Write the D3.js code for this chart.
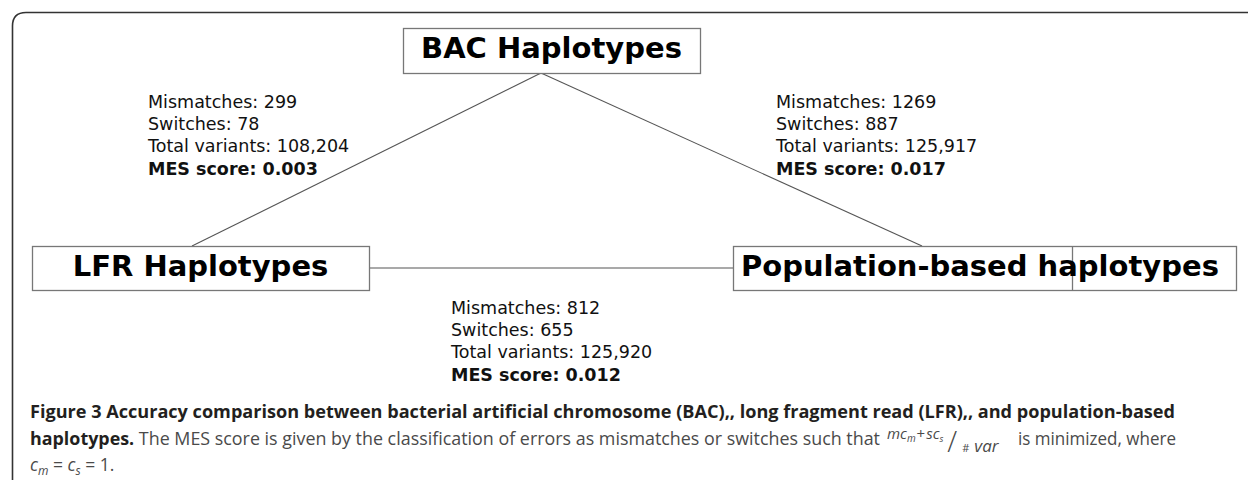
<!DOCTYPE html>
<head>
  <meta charset="utf-8">
  <script src="https://d3js.org/d3.v7.min.js"></script>
  <style>
    body { margin: 0; background: #fff; }
    svg { display: block; }
    .node rect { fill: #fff; stroke: #777; stroke-width: 1.3; }
    .node text { font-family: "DejaVu Sans"; font-weight: bold; font-size: 29px; fill: #000; }
    .edge { stroke: #555; stroke-width: 1.1; }
    .stats text { font-family: "DejaVu Sans"; font-size: 17.5px; fill: #111; }
    .caption { font-family: "Open Sans"; font-size: 17.5px; fill: #4a4a4a; }
    .caption .b { font-weight: 700; fill: #231f20; }
  </style>
</head>
<body>
<div id="chart"></div>
<script>
// haplotype sources
var nodes = ["BAC Haplotypes", "LFR Haplotypes", "Population-based haplotypes"];
// pairwise comparisons: [from, to]
var pairs = [[0, 1], [0, 2], [1, 2]];
var mismatches = [299, 1269, 812];
var switches = [78, 887, 655];
var totalVariants = [108204, 125917, 125920];
var mesScores = [0.003, 0.017, 0.012];

var width = 1248, height = 480;

var svg = d3.select("#chart").append("svg")
    .attr("width", width)
    .attr("height", height);

// layout (boxes and label anchors)
var boxes = [
  {x: 403, y: 28, w: 297, h: 45, tx: 551.5, anchor: "middle"},
  {x: 32, y: 246, w: 337, h: 44, tx: 200.5, anchor: "middle"},
  {x: 733, y: 246, w: 503, h: 44, tx: 741, anchor: "start", split: 1072}
];
var edgeEnds = [
  [[541, 73], [192, 246]],
  [[541, 73], [922, 246]],
  [[369, 268], [733, 268]]
];
var statPos = [[148, 108], [776, 108], [451, 314]];

// outer frame with rounded top-left corner
svg.append("path")
    .attr("d", "M12.5,480 L12.5,26 Q12.5,12.5 26,12.5 L1248,12.5")
    .attr("fill", "none")
    .attr("stroke", "#333")
    .attr("stroke-width", 1.6);

svg.selectAll("line.edge")
    .data(pairs)
  .enter().append("line")
    .attr("class", "edge")
    .attr("x1", function(d, i) { return edgeEnds[i][0][0]; })
    .attr("y1", function(d, i) { return edgeEnds[i][0][1]; })
    .attr("x2", function(d, i) { return edgeEnds[i][1][0]; })
    .attr("y2", function(d, i) { return edgeEnds[i][1][1]; });

var node = svg.selectAll("g.node")
    .data(nodes)
  .enter().append("g")
    .attr("class", "node");

node.append("rect")
    .attr("x", function(d, i) { return boxes[i].x + 0.5; })
    .attr("y", function(d, i) { return boxes[i].y + 0.5; })
    .attr("width", function(d, i) { return boxes[i].w; })
    .attr("height", function(d, i) { return boxes[i].h; });

node.filter(function(d, i) { return boxes[i].split; })
  .append("line")
    .attr("x1", 1072.5)
    .attr("x2", 1072.5)
    .attr("y1", 246.5)
    .attr("y2", 290.5)
    .attr("stroke", "#777")
    .attr("stroke-width", 1.3);

node.append("text")
    .attr("x", function(d, i) { return boxes[i].tx; })
    .attr("y", function(d, i) { return boxes[i].y + 30; })
    .attr("text-anchor", function(d, i) { return boxes[i].anchor; })
    .text(function(d) { return d; });

var fmt = d3.format(",");
var stats = svg.selectAll("g.stats")
    .data(pairs)
  .enter().append("g")
    .attr("class", "stats")
    .attr("transform", function(d, i) { return "translate(" + statPos[i] + ")"; });

stats.each(function(d, i) {
  var g = d3.select(this);
  var lines = [
    "Mismatches: " + mismatches[i],
    "Switches: " + switches[i],
    "Total variants: " + fmt(totalVariants[i]),
    "MES score: " + d3.format(".3f")(mesScores[i])
  ];
  g.selectAll("text")
      .data(lines)
    .enter().append("text")
      .attr("y", function(l, j) { return j * 22.2; })
      .style("font-weight", function(l, j) { return j === 3 ? "bold" : "normal"; })
      .text(function(l) { return l; });
});

// caption
var cap = svg.append("g").attr("class", "caption");

cap.append("text")
    .attr("x", 30).attr("y", 418)
    .attr("textLength", 1145)
    .attr("lengthAdjust", "spacingAndGlyphs")
    .attr("class", "b")
    .text("Figure 3 Accuracy comparison between bacterial artificial chromosome (BAC),, long fragment read (LFR),, and population-based");

var l2 = cap.append("text")
    .attr("x", 30).attr("y", 445)
    .attr("textLength", 850)
    .attr("lengthAdjust", "spacingAndGlyphs");
l2.append("tspan").attr("class", "b").text("haplotypes.");
l2.append("tspan").text(" The MES score is given by the classification of errors as mismatches or switches such that");

// fraction (mc_m + sc_s) / # var, one text element
var frac = cap.append("text")
    .attr("x", 887).attr("y", 439)
    .style("font-style", "italic")
    .style("font-size", "15px");
frac.append("tspan").text("mc");
frac.append("tspan").attr("dy", 3).style("font-size", "10px").text("m");
frac.append("tspan").attr("dy", -3).attr("dx", 1).style("font-style", "normal").text("+");
frac.append("tspan").attr("dx", 1).text("sc");
frac.append("tspan").attr("dy", 3).style("font-size", "9px").text("s");
frac.append("tspan").attr("dx", 4).attr("dy", 10).style("font-style", "normal")
    .style("font-size", "29px").style("font-weight", 300).text("/");
frac.append("tspan").attr("dx", 5).attr("dy", 0).style("font-style", "normal")
    .style("font-size", "11px").text("#");
frac.append("tspan").attr("dx", 5).style("font-size", "17px").text("var");

cap.append("text")
    .attr("x", 1018).attr("y", 445)
    .attr("textLength", 158)
    .attr("lengthAdjust", "spacingAndGlyphs")
    .text("is minimized, where");

var l3 = cap.append("text").attr("x", 30).attr("y", 471).style("font-style", "italic");
l3.append("tspan").text("c");
l3.append("tspan").attr("dy", 4).style("font-size", "12px").text("m");
l3.append("tspan").attr("dy", -4).style("font-style", "normal").text(" = ");
l3.append("tspan").text("c");
l3.append("tspan").attr("dy", 4).style("font-size", "12px").text("s");
l3.append("tspan").attr("dy", -4).style("font-style", "normal").text(" = 1.");
</script>
</body>
